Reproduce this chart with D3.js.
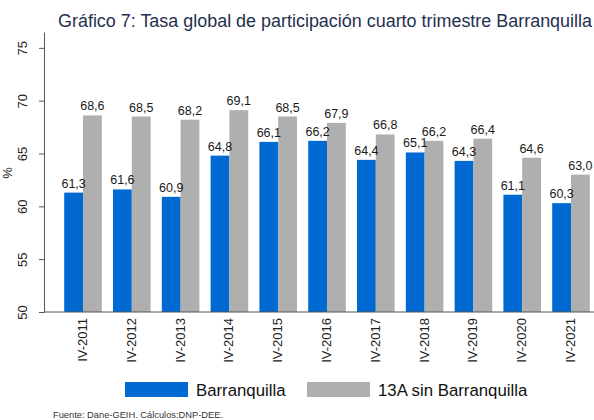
<!DOCTYPE html>
<html>
<head>
<meta charset="utf-8">
<script src="https://cdn.jsdelivr.net/npm/d3@7"></script>
<style>
  body { margin: 0; background: #fff; }
  text { font-family: "Liberation Sans", Arial, sans-serif; }
</style>
</head>
<body>
<div id="chart"></div>
<script>
// Periods and series
const periods = ['IV-2011', 'IV-2012', 'IV-2013', 'IV-2014', 'IV-2015', 'IV-2016',
                 'IV-2017', 'IV-2018', 'IV-2019', 'IV-2020', 'IV-2021'];
const barranquilla = [61.3, 61.6, 60.9, 64.8, 66.1, 66.2, 64.4, 65.1, 64.3, 61.1, 60.3];
const resto13A = [68.6, 68.5, 68.2, 69.1, 68.5, 67.9, 66.8, 66.2, 66.4, 64.6, 63.0];
const yTicks = [50, 55, 60, 65, 70, 75];
const seriesNames = ['Barranquilla', '13A sin Barranquilla'];
const colors = ['#0069d2', '#afafaf'];

const width = 594, height = 420;
const svg = d3.select('#chart').append('svg')
    .attr('width', width)
    .attr('height', height);

const y = d3.scaleLinear().domain([50, 76.5]).range([312, 32]);
const x = d3.scaleBand().domain(periods).range([58.6, 595.4])
    .paddingInner(0.23).paddingOuter(0.115);
const xs = d3.scaleBand().domain([0, 1]).range([0, x.bandwidth()]);

// title
svg.append('text')
    .attr('x', 58).attr('y', 27)
    .attr('font-size', 17.5)
    .attr('fill', '#1f2f4f')
    .attr('textLength', 534)
    .attr('lengthAdjust', 'spacingAndGlyphs')
    .text('Gráfico 7: Tasa global de participación cuarto trimestre Barranquilla');

// bars
const groups = svg.append('g').selectAll('g')
    .data(periods)
    .enter().append('g')
    .attr('transform', d => `translate(${x(d)},0)`);

[barranquilla, resto13A].forEach((vals, s) => {
    groups.append('rect')
        .attr('x', xs(s))
        .attr('width', xs.bandwidth())
        .attr('y', (d, i) => y(vals[i]))
        .attr('height', (d, i) => y(50) - y(vals[i]))
        .attr('fill', colors[s]);
});

[barranquilla, resto13A].forEach((vals, s) => {
    groups.append('text')
        .attr('x', xs(s) + xs.bandwidth() / 2)
        .attr('y', (d, i) => y(vals[i]) - 5)
        .attr('text-anchor', 'middle')
        .attr('font-size', 12.5)
        .attr('fill', '#1a1a1a')
        .text((d, i) => vals[i].toFixed(1).replace('.', ','));
});

// y axis
const yAxis = svg.append('g')
    .attr('transform', 'translate(44,0)')
    .call(d3.axisLeft(y).tickValues(yTicks).tickSize(5).tickPadding(6).tickSizeOuter(0));
yAxis.select('.domain').attr('stroke', '#555');
yAxis.selectAll('.tick line').attr('stroke', '#555');
yAxis.selectAll('.tick text')
    .attr('font-size', 13)
    .attr('fill', '#222')
    .attr('transform', 'rotate(-90)')
    .attr('x', 0).attr('y', -22)
    .attr('dy', '0.35em')
    .attr('text-anchor', 'middle');

svg.append('text')
    .attr('transform', 'translate(12,173) rotate(-90)')
    .attr('text-anchor', 'middle')
    .attr('font-size', 13)
    .attr('fill', '#222')
    .text('%');

// x axis
svg.append('line')
    .attr('x1', 44).attr('x2', width)
    .attr('y1', y(50)).attr('y2', y(50))
    .attr('stroke', '#555');

svg.append('g').selectAll('text')
    .data(periods)
    .enter().append('text')
    .attr('transform', d => `translate(${x(d) + x.bandwidth() / 2 + 4},318) rotate(-90)`)
    .attr('text-anchor', 'end')
    .attr('font-size', 13)
    .attr('fill', '#222')
    .text(d => d);

// legend
const legend = svg.append('g');
const legendX = [125, 307];
seriesNames.forEach((name, i) => {
    legend.append('rect')
        .attr('x', legendX[i]).attr('y', 382)
        .attr('width', 63).attr('height', 15)
        .attr('fill', colors[i]);
    legend.append('text')
        .attr('x', legendX[i] + 71).attr('y', 396)
        .attr('font-size', 16.8)
        .attr('fill', '#111')
        .text(name);
});

// source
svg.append('text')
    .attr('x', 53).attr('y', 418)
    .attr('font-size', 9.3)
    .attr('fill', '#333')
    .text('Fuente: Dane-GEIH. Cálculos:DNP-DEE.');
</script>
</body>
</html>
